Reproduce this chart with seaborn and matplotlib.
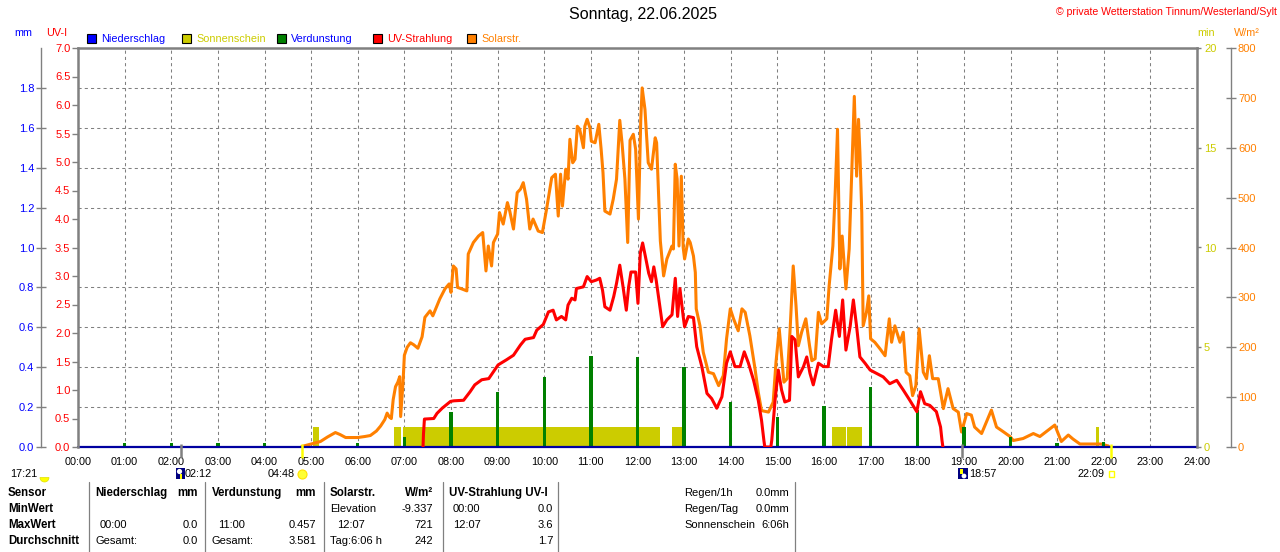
import numpy as np
import matplotlib
matplotlib.use("Agg")
import matplotlib.pyplot as plt
from matplotlib.patches import Rectangle, Wedge
import seaborn as sns

# ---------------- data ----------------
hour_labels = [f"{h:02d}:00" for h in range(25)]

# Solar radiation (W/m²)
solar_h = [4.80, 5.0, 5.2, 5.35, 5.52, 5.62, 5.74, 6.0, 6.15, 6.27, 6.4, 6.49, 6.58, 6.63, 6.68, 6.72,
           6.76, 6.81, 6.86, 6.9, 6.92, 6.95, 6.97, 7.0, 7.06, 7.13, 7.2, 7.29, 7.38, 7.44, 7.55, 7.61,
           7.76, 7.87, 7.96, 8.0, 8.05, 8.11, 8.14, 8.23, 8.34, 8.37, 8.48, 8.59, 8.68, 8.75, 8.8, 8.87,
           8.91, 9.0, 9.04, 9.12, 9.21, 9.26, 9.34, 9.42, 9.49, 9.55, 9.62, 9.69, 9.76, 9.87, 9.96, 10.05,
           10.16, 10.24, 10.3, 10.35, 10.39, 10.46, 10.51, 10.55, 10.61, 10.66, 10.71, 10.76, 10.84, 10.87,
           10.92, 10.98, 11.01, 11.09, 11.17, 11.22, 11.26, 11.3, 11.41, 11.48, 11.55, 11.62, 11.67, 11.73,
           11.79, 11.84, 11.91, 11.96, 12.02, 12.07, 12.1, 12.16, 12.23, 12.3, 12.38, 12.41, 12.49, 12.56,
           12.63, 12.74, 12.77, 12.81, 12.85, 12.89, 12.94, 12.98, 13.01, 13.09, 13.13, 13.2, 13.24, 13.26,
           13.34, 13.41, 13.52, 13.63, 13.74, 13.84, 13.91, 13.99, 14.06, 14.16, 14.24, 14.31, 14.41, 14.52,
           14.59, 14.66, 14.81, 14.91, 14.97, 15.04, 15.09, 15.14, 15.21, 15.27, 15.34, 15.4, 15.45, 15.52,
           15.61, 15.69, 15.74, 15.81, 15.88, 15.95, 16.06, 16.11, 16.19, 16.24, 16.29, 16.34, 16.39, 16.47,
           16.54, 16.59, 16.65, 16.7, 16.74, 16.77, 16.81, 16.84, 16.91, 16.96, 17.0, 17.09, 17.2, 17.31,
           17.4, 17.45, 17.52, 17.63, 17.7, 17.76, 17.84, 17.9, 17.97, 18.04, 18.13, 18.2, 18.26, 18.33,
           18.45, 18.56, 18.66, 18.77, 18.88, 18.95, 19.06, 19.16, 19.23, 19.38, 19.59, 19.7, 19.84, 19.99,
           20.06, 20.27, 20.49, 20.63, 20.77, 20.95, 21.09, 21.24, 21.34, 21.49, 21.77, 21.94, 22.1]
solar_w = [1, 6, 11, 20, 29, 25, 19, 19, 21, 23, 32, 42, 55, 68, 60, 57,
           95, 121, 130, 141, 61, 100, 128, 184, 200, 209, 205, 198, 221, 260, 273, 263,
           297, 317, 327, 310, 363, 357, 320, 317, 313, 387, 410, 423, 430, 353, 403, 363,
           410, 427, 470, 447, 490, 473, 437, 510, 517, 530, 497, 437, 457, 433, 430, 477,
           540, 547, 463, 547, 483, 557, 537, 617, 570, 577, 643, 637, 600, 643,
           657, 640, 613, 610, 647, 597, 550, 473, 467, 497, 537, 655, 608, 537,
           410, 615, 627, 597, 457, 657, 720, 677, 570, 557, 620, 610, 413, 343,
           377, 403, 397, 567, 537, 403, 543, 400, 377, 417, 410, 383, 350, 277,
           243, 190, 150, 147, 123, 143, 217, 277, 257, 233, 277, 270, 223, 157,
           110, 73, 70, 90, 170, 237, 183, 130, 137, 230, 363, 283, 203, 230,
           257, 203, 173, 177, 270, 247, 257, 323, 403, 510, 637, 357, 423, 317,
           397, 537, 703, 543, 657, 590, 470, 243, 270, 303, 217, 210, 197, 183,
           257, 210, 243, 210, 230, 150, 143, 103, 123, 237, 150, 137, 183, 137,
           137, 77, 117, 77, 70, 30, 67, 64, 40, 27, 74, 40, 31, 21,
           13, 17, 27, 21, 31, 44, 11, 24, 16, 6, 6, 6, 2]

# UV index
uv_h = [7.40, 7.41, 7.43, 7.63, 7.7, 7.81, 7.99, 8.06, 8.27, 8.41, 8.51, 8.66, 8.81, 8.91, 9.01, 9.19,
        9.34, 9.49, 9.59, 9.77, 9.84, 9.98, 10.09, 10.19, 10.26, 10.37, 10.46, 10.51, 10.59, 10.66,
        10.69, 10.84, 10.92, 11.01, 11.12, 11.19, 11.25, 11.3, 11.41, 11.49, 11.55, 11.62, 11.69, 11.76,
        11.81, 11.86, 11.96, 12.01, 12.06, 12.11, 12.17, 12.24, 12.3, 12.35, 12.4, 12.46, 12.54, 12.63,
        12.74, 12.81, 12.86, 12.91, 12.98, 13.01, 13.09, 13.2, 13.27, 13.38, 13.49, 13.59, 13.7, 13.81,
        13.91, 13.99, 14.09, 14.2, 14.29, 14.38, 14.49, 14.59, 14.66, 14.71, 14.73, 14.86, 14.88, 14.95,
        15.02, 15.09, 15.16, 15.26, 15.31, 15.38, 15.45, 15.56, 15.63, 15.7, 15.77, 15.88, 15.99, 16.09,
        16.16, 16.25, 16.33, 16.4, 16.47, 16.56, 16.63, 16.7, 16.77, 16.88, 16.99, 17.13, 17.27, 17.41,
        17.56, 17.7, 17.84, 17.99, 18.07, 18.16, 18.27, 18.41, 18.5, 18.53, 18.55]
uv_i = [0.0, 0.23, 0.49, 0.5, 0.59, 0.68, 0.8, 0.81, 0.82, 0.97, 1.09, 1.18, 1.2, 1.32, 1.44, 1.53,
        1.61, 1.79, 1.89, 1.92, 2.05, 2.15, 2.37, 2.4, 2.23, 2.29, 2.23, 2.49, 2.61, 2.58,
        2.78, 2.81, 2.99, 2.9, 2.93, 2.96, 2.75, 2.46, 2.4, 2.64, 2.87, 3.19, 2.81, 2.4,
        2.81, 3.07, 3.07, 2.52, 3.4, 3.58, 3.34, 3.05, 2.9, 3.16, 2.93, 2.58, 2.11, 2.23,
        2.32, 2.96, 2.29, 2.78, 2.29, 2.11, 2.29, 2.27, 1.76, 1.41, 0.94, 0.85, 0.68, 0.88,
        1.47, 1.67, 1.41, 1.41, 1.67, 1.47, 1.17, 0.82, 0.47, 0.12, 0.0, 0.0, 0.12, 0.82,
        1.35, 1.0, 0.79, 0.82, 1.94, 1.88, 1.23, 1.41, 1.58, 1.29, 1.09, 1.47, 1.41, 1.41,
        1.88, 2.4, 1.94, 2.58, 1.7, 2.11, 2.58, 2.11, 1.58, 1.47, 1.35, 1.29, 1.23, 1.11,
        1.17, 1.0, 0.82, 0.62, 0.97, 0.76, 0.73, 0.62, 0.35, 0.12, 0.0]

# Evaporation per hour (mm)
evap_h = [1, 2, 3, 4, 6, 7, 8, 9, 10, 11, 12, 13, 14, 15, 16, 17, 18, 19, 20, 21, 22]
evap_mm = [0.02, 0.02, 0.02, 0.02, 0.02, 0.05, 0.177, 0.277, 0.352, 0.457, 0.45, 0.40, 0.227,
           0.149, 0.205, 0.30, 0.185, 0.10, 0.05, 0.02, 0.027]

# Sunshine intervals (hours) and minutes of sun per interval
sun_start = [5.036, 6.771, 6.964, 12.75, 16.18, 16.49, 21.83]
sun_end = [5.179, 6.929, 12.486, 12.97, 16.47, 16.81, 21.90]
sun_min = [1, 1, 1, 1, 1, 1, 1]

# Precipitation (mm)
rain_h = [0, 24]
rain_mm = [0.0, 0.0]

# Sun / moon events (hours)
sun_events = [4.80, 22.15]
moon_events = [2.20, 18.95]

# ---------------- style ----------------
sns.set_theme(style="white")
plt.rcParams['font.family'] = ['Liberation Sans', 'DejaVu Sans']

GRAY = '#808080'
C_BLUE = '#0000FF'
C_YEL = '#CCCC00'
C_GREEN = '#008000'
C_RED = '#FF0000'
C_ORANGE = '#FF8000'

WPX, HPX = 1280, 552
fig = plt.figure(figsize=(12.8, 5.52), dpi=100)
fig.patch.set_facecolor('white')
X0, X1, Y0, Y1 = 78, 1197, 48, 447
ax = fig.add_axes([X0 / WPX, 1 - Y1 / HPX, (X1 - X0) / WPX, (Y1 - Y0) / HPX])
ax_min = ax.twinx()
ax_w = ax.twinx()
ax_mm = ax.twinx()
for a, z in ((ax_min, 1), (ax_w, 2), (ax_mm, 3), (ax, 4)):
    a.set_zorder(z)
    a.patch.set_visible(False)
    for s in a.spines.values():
        s.set_visible(False)

ax.set_xlim(0, 24)
ax.set_ylim(0, 7)
ax_min.set_ylim(0, 20)
ax_mm.set_ylim(0, 2.0)
ax_w.set_ylim(0, 800)

# grid on lowest axes
ax_min.xaxis.set_visible(True)
ax_min.set_xticks(range(25))
ax_min.tick_params(axis='x', length=0, labelbottom=False)
ax_min.set_yticks(np.arange(0, 21, 2), minor=True)
ax_min.tick_params(axis='y', which='minor', length=0)
ax_min.set_axisbelow(True)
ax_min.grid(True, which='minor', axis='y', color=GRAY, linestyle=(0, (3, 3)), linewidth=0.75)
ax_min.grid(True, which='major', axis='x', color=GRAY, linestyle=(0, (3, 3)), linewidth=0.75)
ax_min.grid(False, which='major', axis='y')

# sunshine bars
widths = [e - s for s, e in zip(sun_start, sun_end)]
ax_min.bar(sun_start, sun_min, width=widths, align='edge', color=C_YEL, linewidth=0, zorder=2)

# solar radiation
sns.lineplot(x=solar_h, y=solar_w, ax=ax_w, color=C_ORANGE, linewidth=2.2, estimator=None, sort=False)

# evaporation & rain
ax_mm.bar(evap_h, evap_mm, width=0.075, color=C_GREEN, linewidth=0, zorder=2)
sns.lineplot(x=rain_h, y=rain_mm, ax=ax_mm, color='#0000A0', linewidth=1.6, estimator=None,
             sort=False, clip_on=False, zorder=5)

# UV
sns.lineplot(x=uv_h, y=uv_i, ax=ax, color=C_RED, linewidth=2.2, estimator=None, sort=False)

for a in (ax, ax_min, ax_w, ax_mm):
    a.set_xlabel('')
    a.set_ylabel('')

# main frame
for side in ('left', 'top', 'right'):
    ax.spines[side].set_visible(True)
    ax.spines[side].set_color(GRAY)
    ax.spines[side].set_linewidth(1.8)

# x ticks
ax.set_xticks(range(25))
ax.set_xticklabels(hour_labels)
ax.tick_params(axis='x', length=0, labelsize=7.8, pad=7, labelcolor='black')

# UV axis
uv_ticks = np.arange(0, 7.01, 0.5)
ax.set_yticks(uv_ticks)
ax.set_yticklabels([f"{v:.1f}" for v in uv_ticks])
ax.tick_params(axis='y', direction='out', length=4, width=1, color=GRAY, labelcolor=C_RED,
               labelsize=8, pad=1.5, left=True, right=False, labelleft=True, labelright=False)

# sunshine minutes axis
ax_min.set_yticks([0, 5, 10, 15, 20])
ax_min.set_yticklabels(['0', '5', '10', '15', '20'])
ax_min.tick_params(axis='y', which='major', direction='out', length=3, width=1, color=GRAY,
                   labelcolor=C_YEL, labelsize=8, pad=2, right=True, left=False,
                   labelright=True, labelleft=False)

# mm axis
mm_ticks = np.arange(0, 1.81, 0.2)
ax_mm.yaxis.set_ticks_position('left')
ax_mm.yaxis.set_label_position('left')
ax_mm.spines['left'].set_visible(True)
ax_mm.spines['left'].set_position(('axes', (40.5 - X0) / (X1 - X0)))
ax_mm.spines['left'].set_color(GRAY)
ax_mm.spines['left'].set_linewidth(1.0)
ax_mm.set_yticks(mm_ticks)
ax_mm.set_yticklabels([f"{v:.1f}" for v in mm_ticks])
ax_mm.tick_params(axis='y', direction='inout', length=7, width=1, color=GRAY, labelcolor=C_BLUE,
                  labelsize=8, pad=1, left=True, right=False, labelleft=True, labelright=False)

# W/m² axis
w_ticks = np.arange(0, 801, 100)
ax_w.spines['right'].set_visible(True)
ax_w.spines['right'].set_position(('axes', (1231 - X0) / (X1 - X0)))
ax_w.spines['right'].set_color(GRAY)
ax_w.spines['right'].set_linewidth(1.0)
ax_w.set_yticks(w_ticks)
ax_w.set_yticklabels([str(v) for v in w_ticks])
ax_w.tick_params(axis='y', direction='inout', length=7, width=1, color=GRAY, labelcolor=C_ORANGE,
                 labelsize=8, pad=1.5, right=True, left=False, labelright=True, labelleft=False)

# sun / moon event marks on the time axis
ax.vlines(sun_events, -0.027, 0.008, transform=ax.get_xaxis_transform(), colors='#FFFF00',
          linewidth=1.8, clip_on=False, zorder=6)
ax.vlines(moon_events, -0.027, 0.008, transform=ax.get_xaxis_transform(), colors=GRAY,
          linewidth=1.8, clip_on=False, zorder=6)

# ---------------- overlay (texts, legend, table) ----------------
ov = fig.add_axes([0, 0, 1, 1])
ov.set_xlim(0, WPX)
ov.set_ylim(HPX, 0)
ov.axis('off')
ov.set_zorder(10)

ov.text(643, 15, 'Sonntag, 22.06.2025', ha='center', va='center', fontsize=11.5, color='black')
ov.text(1277, 12, '© private Wetterstation Tinnum/Westerland/Sylt', ha='right', va='center',
        fontsize=7.6, color=C_RED)

# unit labels
ov.text(14, 33, 'mm', ha='left', va='center', fontsize=7.8, color=C_BLUE)
ov.text(46, 33, 'UV-I', ha='left', va='center', fontsize=7.8, color=C_RED)
ov.text(1197, 33, 'min', ha='left', va='center', fontsize=7.8, color=C_YEL)
ov.text(1234, 33, 'W/m²', ha='left', va='center', fontsize=7.8, color=C_ORANGE)

# legend
legend_items = [('Niederschlag', C_BLUE, C_BLUE), ('Sonnenschein', C_YEL, C_YEL),
                ('Verdunstung', C_GREEN, C_BLUE), ('UV-Strahlung', C_RED, C_RED),
                ('Solarstr.', C_ORANGE, C_ORANGE)]
leg_x = [87, 182, 277, 373, 467]
for (lab, fc, tc), lx in zip(legend_items, leg_x):
    ov.add_patch(Rectangle((lx, 33.5), 9, 9, facecolor=fc, edgecolor='black', linewidth=0.8))
    ov.text(lx + 14, 38.5, lab, ha='left', va='center', fontsize=7.8, color=tc)

# sun / moon time row
ty = 474
ov.text(10, ty, '17:21', ha='left', va='center', fontsize=7.8, color='black')
ov.add_patch(Wedge((44.5, 477.5), 4.5, 0, 180, facecolor='#FFFF00', edgecolor='#E0E000', lw=0.5))
ov.add_patch(Rectangle((175.5, 467.5), 9, 11, facecolor='#000080', edgecolor='none'))
ov.add_patch(Wedge((179.5, 471.5), 2.6, 0, 360, facecolor='white', edgecolor='none'))
ov.add_patch(Rectangle((179.5, 474), 2.2, 4.5, facecolor='#FFFF00', edgecolor='none'))
ov.text(185, ty, '02:12', ha='left', va='center', fontsize=7.8, color='black')
ov.text(268, ty, '04:48', ha='left', va='center', fontsize=7.8, color='black')
ov.plot([301.5], [473.5], marker='o', ms=6.5, color='#FFFF33', mec='#FFE000', mew=0.8)
ov.add_patch(Rectangle((957.5, 467.5), 10, 11, facecolor='#000080', edgecolor='none'))
ov.add_patch(Rectangle((960, 468.5), 2.5, 5, facecolor='#FFFF00', edgecolor='none'))
ov.add_patch(Wedge((964, 476), 2.4, 0, 360, facecolor='white', edgecolor='none'))
ov.text(969, ty, '18:57', ha='left', va='center', fontsize=7.8, color='black')
ov.text(1077, ty, '22:09', ha='left', va='center', fontsize=7.8, color='black')
ov.add_patch(Rectangle((1108.5, 470.5), 5, 6.5, facecolor='none', edgecolor='#FFFF00', lw=1.0))

# table
for sx in (88.5, 205, 324, 443, 558, 795):
    ov.plot([sx, sx], [482, 552], color=GRAY, lw=0.9)

rows_y = [493, 509, 525, 541]
FS = 8.0
FSB = 8.3
def T(x, y, s, bold=False, ha='left'):
    ov.text(x, y, s, ha=ha, va='center', fontsize=FSB if bold else FS,
            fontweight='bold' if bold else 'normal', color='black')

# header row
T(8, rows_y[0], 'Sensor', True)
T(95, rows_y[0], 'Niederschlag', True)
T(198, rows_y[0], 'mm', True, 'right')
T(212, rows_y[0], 'Verdunstung', True)
T(316, rows_y[0], 'mm', True, 'right')
T(330, rows_y[0], 'Solarstr.', True)
T(433, rows_y[0], 'W/m²', True, 'right')
T(449, rows_y[0], 'UV-Strahlung UV-I', True)
# MinWert
T(8, rows_y[1], 'MinWert', True)
T(330, rows_y[1], 'Elevation')
T(433, rows_y[1], '-9.337', ha='right')
T(453, rows_y[1], '00:00')
T(553, rows_y[1], '0.0', ha='right')
# MaxWert
T(8, rows_y[2], 'MaxWert', True)
T(100, rows_y[2], '00:00')
T(198, rows_y[2], '0.0', ha='right')
T(218, rows_y[2], '11:00')
T(316, rows_y[2], '0.457', ha='right')
T(337, rows_y[2], '12:07')
T(433, rows_y[2], '721', ha='right')
T(453, rows_y[2], '12:07')
T(553, rows_y[2], '3.6', ha='right')
# Durchschnitt
T(8, rows_y[3], 'Durchschnitt', True)
T(95, rows_y[3], 'Gesamt:')
T(198, rows_y[3], '0.0', ha='right')
T(212, rows_y[3], 'Gesamt:')
T(316, rows_y[3], '3.581', ha='right')
T(330, rows_y[3], 'Tag:6:06 h')
T(433, rows_y[3], '242', ha='right')
T(553, rows_y[3], '1.7', ha='right')
# right panel
T(684, rows_y[0], 'Regen/1h')
T(789, rows_y[0], '0.0mm', ha='right')
T(684, rows_y[1], 'Regen/Tag')
T(789, rows_y[1], '0.0mm', ha='right')
T(684, rows_y[2], 'Sonnenschein')
T(789, rows_y[2], '6:06h', ha='right')

fig.savefig('out.png', dpi=100, facecolor='white')
